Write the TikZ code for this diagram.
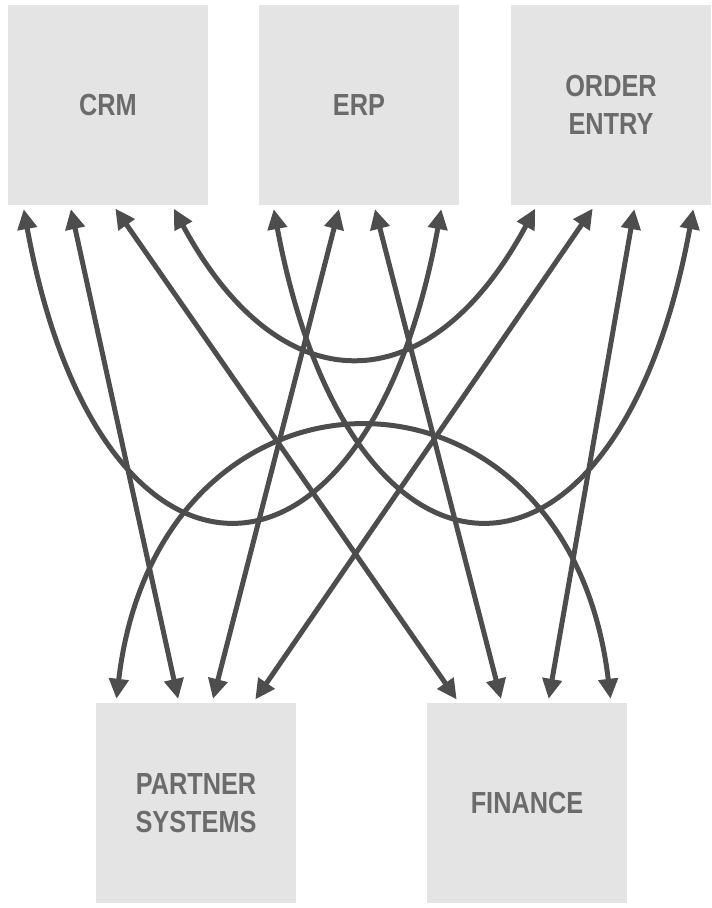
\documentclass[tikz,border=0pt]{standalone}
\usepackage{fontspec}
\setmainfont{Liberation Sans}
\newfontfamily\sysfont[FakeStretch=0.83]{Liberation Sans}
\usetikzlibrary{arrows.meta}

\definecolor{boxfill}{HTML}{E4E4E4}
\definecolor{boxtext}{HTML}{6B6B6B}
\definecolor{linkgray}{HTML}{4D4D4D}

\begin{document}
\begin{tikzpicture}[
    x=1pt, y=-1pt,
    sys/.style={fill=boxfill, minimum width=200pt, minimum height=200pt, inner sep=0pt,
                align=center, text=boxtext, font=\sysfont\fontsize{30.5}{38}\selectfont\bfseries},
    link/.style={{Triangle[length=20pt,width=19pt]}-{Triangle[length=20pt,width=19pt]},
                 line width=5pt, draw=linkgray, shorten <=4pt, shorten >=4pt},
]
\useasboundingbox (0,0) rectangle (712,908);
% ------------------------------------------------ systems
\node[sys] (crm)   at (108,105) {CRM};
\node[sys] (erp)   at (359,105) {ERP};
\node[sys] (order) at (611,105) {ORDER\\ENTRY};
\node[sys] (partner) at (196,803) {PARTNER\\SYSTEMS};
\node[sys] (fin)     at (527,803) {FINANCE};
% ------------------------------------------------ straight links
\draw[link] ([xshift=-38pt]crm.south) -- ([xshift=-17pt]partner.north);
\draw[link] ([xshift=5pt]crm.south)   -- ([xshift=-68pt]fin.north);
\draw[link] ([xshift=-19pt]erp.south) -- ([xshift=16pt]partner.north);
\draw[link] ([xshift=15pt]erp.south)  -- ([xshift=-25pt]fin.north);
\draw[link] ([xshift=-16pt]order.south) -- ([xshift=57pt]partner.north);
\draw[link] ([xshift=24pt]order.south)  -- ([xshift=21pt]fin.north);
% ------------------------------------------------ curved links
\draw[link] ([xshift=-85pt]crm.south) .. controls (99,622) and (366,622) .. ([xshift=83pt]erp.south);
\draw[link] ([xshift=64pt]crm.south) .. controls (280,406) and (429,406) .. ([xshift=-74pt]order.south);
\draw[link] ([xshift=-86pt]erp.south) .. controls (351,622) and (618,622) .. ([xshift=83pt]order.south);
\draw[link] ([xshift=-80pt]partner.north) .. controls (159,338) and (568,338) .. ([xshift=84pt]fin.north);
\end{tikzpicture}
\end{document}
